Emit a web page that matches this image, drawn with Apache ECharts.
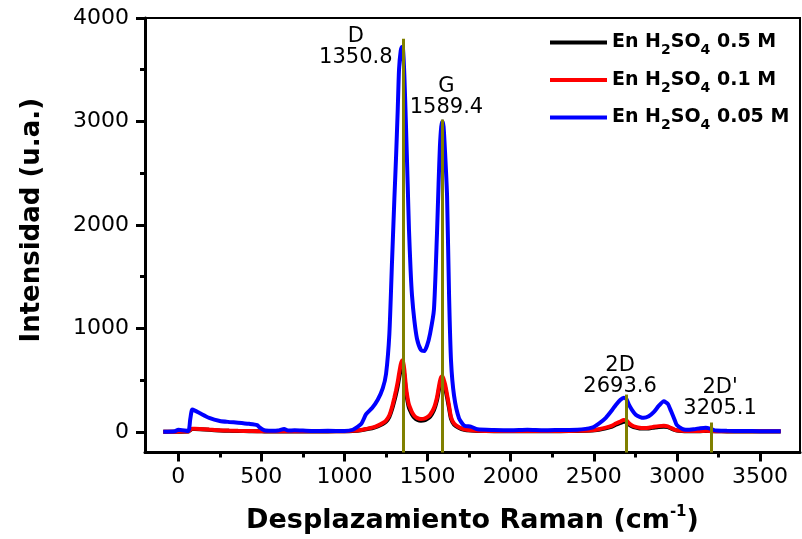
<!DOCTYPE html>
<html>
<head>
<meta charset="utf-8">
<title>Raman</title>
<script src="https://cdn.jsdelivr.net/npm/echarts@6/dist/echarts.min.js"></script>
<style>
    html, body { margin: 0; padding: 0; background: #fff; }
    .raman { width: 802px; height: 539px; }
</style>
</head>
<body>
<div class="raman"></div>
<script>
// desplazamiento Raman (cm-1)
var shift = [-90, -20, 0, 60, 72, 84, 100, 130, 186, 250,
    306, 360, 427, 475, 487, 517, 560, 600, 637, 660,
    700, 800, 900, 1000, 1050, 1100, 1130, 1166, 1200, 1230,
    1250, 1270, 1286, 1300, 1310, 1320, 1328, 1338, 1346, 1352,
    1360, 1370, 1380, 1388, 1398, 1406, 1420, 1436, 1460, 1480,
    1496, 1515, 1538, 1556, 1566, 1574, 1582, 1589, 1596, 1605,
    1617, 1629, 1641, 1659, 1689, 1720, 1760, 1800, 1900, 2000,
    2100, 2200, 2300, 2400, 2488, 2530, 2572, 2610, 2632, 2660,
    2680, 2695, 2710, 2730, 2752, 2775, 2800, 2830, 2860, 2890,
    2921, 2945, 2963, 2985, 2999, 3030, 3053, 3100, 3140, 3173,
    3205, 3233, 3300, 3400, 3500, 3624];

// En H2SO4 0.05 M
var blue = [0, 5, 20, 8, 120, 215, 205, 180, 135, 105,
    95, 88, 77, 65, 45, 15, 10, 12, 28, 12,
    15, 8, 10, 8, 20, 75, 170, 230, 310, 420,
    560, 950, 1650, 2250, 2650, 3100, 3500, 3680, 3720, 3700,
    3450, 2950, 2400, 1950, 1550, 1320, 1080, 900, 790, 780,
    830, 950, 1180, 1900, 2400, 2760, 2950, 3000, 2950, 2700,
    2280, 1320, 680, 350, 130, 60, 50, 25, 18, 15,
    20, 15, 18, 20, 40, 80, 135, 210, 260, 310,
    330, 320, 265, 210, 165, 145, 135, 150, 190, 250,
    295, 270, 205, 120, 65, 30, 20, 25, 35, 40,
    28, 12, 10, 8, 6, 5];

// En H2SO4 0.1 M
var red = [0, 0, 2, 3, 20, 30, 30, 28, 22, 15,
    12, 10, 8, 6, 6, 5, 5, 5, 5, 5,
    5, 5, 5, 6, 10, 18, 28, 40, 60, 85,
    110, 160, 240, 330, 400, 480, 560, 650, 690, 680,
    600, 430, 320, 260, 220, 190, 155, 135, 125, 128,
    140, 165, 230, 330, 420, 490, 530, 538, 510, 460,
    360, 250, 140, 80, 45, 25, 15, 10, 8, 8,
    8, 8, 8, 10, 15, 25, 40, 60, 80, 100,
    115, 112, 85, 62, 48, 40, 38, 40, 48, 55,
    58, 52, 38, 22, 15, 10, 8, 8, 8, 10,
    8, 6, 5, 5, 5, 5];

// En H2SO4 0.5 M
var black = [0, 0, 1, 2, 17, 27, 27, 25, 19, 13,
    10, 8, 6, 5, 5, 4, 4, 4, 4, 4,
    4, 4, 4, 5, 8, 15, 24, 35, 52, 75,
    98, 145, 218, 300, 365, 440, 515, 600, 640, 630,
    550, 390, 290, 232, 195, 168, 136, 117, 107, 110,
    122, 146, 208, 302, 388, 455, 495, 502, 476, 428,
    332, 228, 125, 70, 38, 20, 12, 8, 6, 6,
    6, 6, 6, 8, 12, 20, 33, 50, 68, 86,
    98, 95, 72, 52, 40, 33, 31, 33, 40, 47,
    50, 45, 32, 18, 12, 8, 6, 6, 6, 8,
    6, 5, 4, 4, 4, 4];

// picos
var peakNames = ['D', 'G', '2D', "2D'"];
var peakPositions = [1350.8, 1589.4, 2693.6, 3205.1];
var peakTops = [3800, 3020, 360, 90];

var xTicks = [0, 500, 1000, 1500, 2000, 2500, 3000, 3500];
var xMinorTicks = [250, 750, 1250, 1750, 2250, 2750, 3250];
var yTicks = [0, 1000, 2000, 3000, 4000];
var yMinorTicks = [500, 1500, 2500, 3500];

var legendNames = ['En H2SO4 0.5 M', 'En H2SO4 0.1 M', 'En H2SO4 0.05 M'];

(function () {
    var myChart = echarts.init(document.getElementsByClassName('raman')[0], null, { renderer: 'canvas' });

    function pairs(ys) {
        return shift.map(function (x, i) { return [x, ys[i]]; });
    }

    // offsets of the peak labels, in px
    var labelOffsets = [[-47, 34], [4, 4], [-6, 7], [9, 2]];

    var peakLines = peakPositions.map(function (p, i) {
        return [
            { name: peakNames[i], coord: [p, -200] },
            {
                coord: [p, peakTops[i]],
                label: { offset: labelOffsets[i] }
            }
        ];
    });

    var tickFont = 'DejaVu Sans';
    var plain = function (v) { return String(v); };

    var option = {
        animation: false,
        grid: {
            left: 145,
            right: 2,
            top: 18,
            bottom: 84,
            show: true,
            borderColor: '#000',
            borderWidth: 2,
            backgroundColor: 'transparent'
        },
        legend: {
            orient: 'vertical',
            left: 545,
            top: 28,
            itemWidth: 57,
            itemHeight: 4,
            itemGap: 13,
            icon: 'rect',
            data: legendNames,
            formatter: function (name) {
                var parts = name.split(' ');
                return '{n|En H}{s|2}{n|SO}{s|4}{n| ' + parts[2] + ' M}';
            },
            textStyle: {
                rich: {
                    n: { fontFamily: tickFont, fontWeight: 'bold', fontSize: 19, color: '#000', lineHeight: 30 },
                    s: { fontFamily: tickFont, fontWeight: 'bold', fontSize: 14, color: '#000', lineHeight: 18, verticalAlign: 'bottom' }
                }
            }
        },
        xAxis: [
            {
                type: 'value',
                min: -200,
                max: 3740,
                name: '{t|Desplazamiento Raman (cm}{sup|-1}{t|)}',
                nameLocation: 'middle',
                nameGap: 52,
                nameTextStyle: {
                    rich: {
                        t: { fontFamily: tickFont, fontWeight: 'bold', fontSize: 27, color: '#000', lineHeight: 32 },
                        sup: { fontFamily: tickFont, fontWeight: 'bold', fontSize: 15, color: '#000', lineHeight: 17, verticalAlign: 'top' }
                    }
                },
                splitLine: { show: false },
                axisLine: { onZero: false, lineStyle: { color: '#000', width: 3 } },
                axisTick: { customValues: xTicks, length: 9, lineStyle: { color: '#000', width: 3 } },
                axisLabel: { customValues: xTicks, margin: 14, fontFamily: tickFont, fontSize: 22, color: '#000', formatter: plain }
            },
            {
                type: 'value',
                min: -200,
                max: 3740,
                position: 'bottom',
                splitLine: { show: false },
                axisLine: { show: false, onZero: false },
                axisTick: { customValues: xMinorTicks, length: 5, lineStyle: { color: '#000', width: 3 } },
                axisLabel: { show: false }
            }
        ],
        yAxis: [
            {
                type: 'value',
                min: -200,
                max: 4000,
                name: 'Intensidad (u.a.)',
                nameLocation: 'middle',
                nameGap: 100,
                nameTextStyle: { fontFamily: tickFont, fontWeight: 'bold', fontSize: 26, color: '#000', padding: [0, 0, 0, 30] },
                splitLine: { show: false },
                axisLine: { onZero: false, lineStyle: { color: '#000', width: 3 } },
                axisTick: { customValues: yTicks, length: 9, lineStyle: { color: '#000', width: 3 } },
                axisLabel: { customValues: yTicks, margin: 16, fontFamily: tickFont, fontSize: 22, color: '#000', formatter: plain }
            },
            {
                type: 'value',
                min: -200,
                max: 4000,
                position: 'left',
                splitLine: { show: false },
                axisLine: { show: false, onZero: false },
                axisTick: { customValues: yMinorTicks, length: 5, lineStyle: { color: '#000', width: 3 } },
                axisLabel: { show: false }
            }
        ],
        series: [
            {
                name: legendNames[0],
                type: 'line',
                data: pairs(black),
                showSymbol: false,
                smooth: 0.2,
                color: '#000000',
                lineStyle: { width: 4 }
            },
            {
                name: legendNames[1],
                type: 'line',
                data: pairs(red),
                showSymbol: false,
                smooth: 0.2,
                color: '#ff0000',
                lineStyle: { width: 4 }
            },
            {
                name: legendNames[2],
                type: 'line',
                data: pairs(blue),
                showSymbol: false,
                smooth: 0.2,
                color: '#0000ff',
                lineStyle: { width: 4 },
                markLine: {
                    silent: true,
                    symbol: ['none', 'none'],
                    lineStyle: { color: '#808000', width: 3, type: 'solid' },
                    label: {
                        show: true,
                        position: 'end',
                        fontFamily: tickFont,
                        fontSize: 21,
                        lineHeight: 21,
                        color: '#000',
                        formatter: function (p) {
                            return p.name + '\n' + peakPositions[p.dataIndex].toFixed(1);
                        }
                    },
                    data: peakLines
                }
            }
        ]
    };

    myChart.setOption(option);

    window.addEventListener('resize', function () {
        myChart.resize();
    });
})();
</script>
</body>
</html>
